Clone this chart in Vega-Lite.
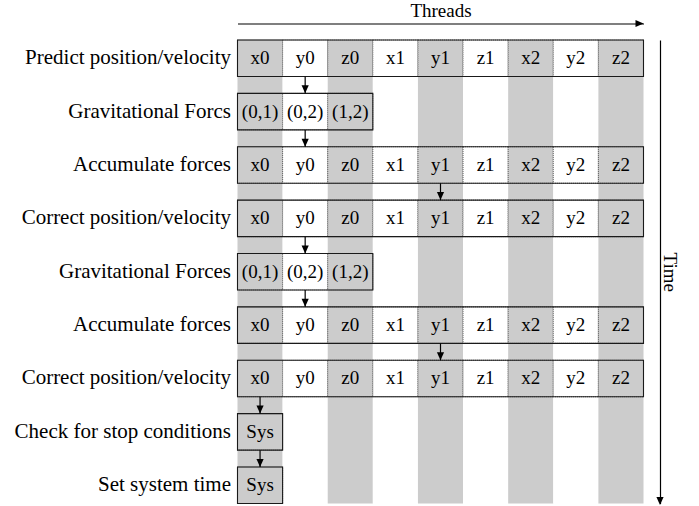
{
  "$schema": "https://vega.github.io/schema/vega-lite/v6.json",
  "width": 406,
  "height": 463.5,
  "autosize": {"type": "none"},
  "padding": {"left": 237.5, "top": 40, "right": 55.5, "bottom": 2.5},
  "background": "white",
  "config": {"view": {"stroke": null}, "font": "Liberation Serif"},
  "datasets": {
    "threads": [
      {"thread": "x0"}, {"thread": "y0"}, {"thread": "z0"},
      {"thread": "x1"}, {"thread": "y1"}, {"thread": "z1"},
      {"thread": "x2"}, {"thread": "y2"}, {"thread": "z2"}
    ],
    "cells": [
      {"step": "s1", "thread": "x0", "label": "x0"}, {"step": "s1", "thread": "y0", "label": "y0"}, {"step": "s1", "thread": "z0", "label": "z0"},
      {"step": "s1", "thread": "x1", "label": "x1"}, {"step": "s1", "thread": "y1", "label": "y1"}, {"step": "s1", "thread": "z1", "label": "z1"},
      {"step": "s1", "thread": "x2", "label": "x2"}, {"step": "s1", "thread": "y2", "label": "y2"}, {"step": "s1", "thread": "z2", "label": "z2"},
      {"step": "s2", "thread": "x0", "label": "(0,1)"}, {"step": "s2", "thread": "y0", "label": "(0,2)"}, {"step": "s2", "thread": "z0", "label": "(1,2)"},
      {"step": "s3", "thread": "x0", "label": "x0"}, {"step": "s3", "thread": "y0", "label": "y0"}, {"step": "s3", "thread": "z0", "label": "z0"},
      {"step": "s3", "thread": "x1", "label": "x1"}, {"step": "s3", "thread": "y1", "label": "y1"}, {"step": "s3", "thread": "z1", "label": "z1"},
      {"step": "s3", "thread": "x2", "label": "x2"}, {"step": "s3", "thread": "y2", "label": "y2"}, {"step": "s3", "thread": "z2", "label": "z2"},
      {"step": "s4", "thread": "x0", "label": "x0"}, {"step": "s4", "thread": "y0", "label": "y0"}, {"step": "s4", "thread": "z0", "label": "z0"},
      {"step": "s4", "thread": "x1", "label": "x1"}, {"step": "s4", "thread": "y1", "label": "y1"}, {"step": "s4", "thread": "z1", "label": "z1"},
      {"step": "s4", "thread": "x2", "label": "x2"}, {"step": "s4", "thread": "y2", "label": "y2"}, {"step": "s4", "thread": "z2", "label": "z2"},
      {"step": "s5", "thread": "x0", "label": "(0,1)"}, {"step": "s5", "thread": "y0", "label": "(0,2)"}, {"step": "s5", "thread": "z0", "label": "(1,2)"},
      {"step": "s6", "thread": "x0", "label": "x0"}, {"step": "s6", "thread": "y0", "label": "y0"}, {"step": "s6", "thread": "z0", "label": "z0"},
      {"step": "s6", "thread": "x1", "label": "x1"}, {"step": "s6", "thread": "y1", "label": "y1"}, {"step": "s6", "thread": "z1", "label": "z1"},
      {"step": "s6", "thread": "x2", "label": "x2"}, {"step": "s6", "thread": "y2", "label": "y2"}, {"step": "s6", "thread": "z2", "label": "z2"},
      {"step": "s7", "thread": "x0", "label": "x0"}, {"step": "s7", "thread": "y0", "label": "y0"}, {"step": "s7", "thread": "z0", "label": "z0"},
      {"step": "s7", "thread": "x1", "label": "x1"}, {"step": "s7", "thread": "y1", "label": "y1"}, {"step": "s7", "thread": "z1", "label": "z1"},
      {"step": "s7", "thread": "x2", "label": "x2"}, {"step": "s7", "thread": "y2", "label": "y2"}, {"step": "s7", "thread": "z2", "label": "z2"},
      {"step": "s8", "thread": "x0", "label": "Sys"},
      {"step": "s9", "thread": "x0", "label": "Sys"}
    ],
    "boxes": [
      {"step": "s1", "first": "x0", "last": "z2"},
      {"step": "s2", "first": "x0", "last": "z0"},
      {"step": "s3", "first": "x0", "last": "z2"},
      {"step": "s4", "first": "x0", "last": "z2"},
      {"step": "s5", "first": "x0", "last": "z0"},
      {"step": "s6", "first": "x0", "last": "z2"},
      {"step": "s7", "first": "x0", "last": "z2"},
      {"step": "s8", "first": "x0", "last": "x0"},
      {"step": "s9", "first": "x0", "last": "x0"}
    ],
    "arrows": [
      {"from": "s1", "to": "s2", "thread": "y0"},
      {"from": "s2", "to": "s3", "thread": "y0"},
      {"from": "s3", "to": "s4", "thread": "y1"},
      {"from": "s4", "to": "s5", "thread": "y0"},
      {"from": "s5", "to": "s6", "thread": "y0"},
      {"from": "s6", "to": "s7", "thread": "y1"},
      {"from": "s7", "to": "s8", "thread": "x0"},
      {"from": "s8", "to": "s9", "thread": "x0"}
    ]
  },
  "layer": [
    {
      "data": {"name": "threads"},
      "mark": {"type": "rect"},
      "encoding": {
        "x": {
          "field": "thread", "type": "nominal",
          "scale": {"type": "band", "domain": ["x0", "y0", "z0", "x1", "y1", "z1", "x2", "y2", "z2"], "paddingInner": 0, "paddingOuter": 0},
          "axis": {"orient": "top", "offset": 16.5, "domain": true, "domainColor": "black", "domainWidth": 1.2, "ticks": false, "labels": false, "grid": false,
                   "title": "Threads", "titleFont": "Liberation Serif", "titleFontSize": 19, "titleFontWeight": "normal", "titleColor": "black", "titlePadding": 3}
        },
        "color": {
          "field": "thread", "type": "nominal",
          "scale": {"domain": ["x0", "y0", "z0", "x1", "y1", "z1", "x2", "y2", "z2"],
                    "range": ["#cccccc", "#ffffff", "#cccccc", "#ffffff", "#cccccc", "#ffffff", "#cccccc", "#ffffff", "#cccccc"]},
          "legend": null
        }
      }
    },
    {
      "data": {"name": "cells"},
      "mark": {"type": "rect", "stroke": "#555555", "strokeWidth": 0.9, "strokeDash": [1, 1], "fillOpacity": 1},
      "encoding": {
        "x": {"field": "thread", "type": "nominal"},
        "y": {
          "field": "step", "type": "nominal",
          "scale": {"type": "band", "domain": ["s1", "s2", "s3", "s4", "s5", "s6", "s7", "s8", "s9"], "paddingInner": 0.316, "paddingOuter": 0},
          "axis": {
            "orient": "left", "domain": false, "ticks": false, "grid": false, "title": null,
            "labelFont": "Liberation Serif", "labelFontSize": 21, "labelColor": "black", "labelPadding": 7, "labelLimit": 400,
            "labelExpr": "['Predict position/velocity', 'Gravitational Forcs', 'Accumulate forces', 'Correct position/velocity', 'Gravitational Forces', 'Accumulate forces', 'Correct position/velocity', 'Check for stop conditions', 'Set system time'][indexof(['s1','s2','s3','s4','s5','s6','s7','s8','s9'], datum.value)]"
          }
        },
        "color": {"field": "thread", "type": "nominal", "legend": null}
      }
    },
    {
      "data": {"name": "cells"},
      "mark": {"type": "text", "font": "Liberation Serif", "fontSize": 19, "color": "black", "baseline": "middle", "align": "center"},
      "encoding": {
        "x": {"field": "thread", "type": "nominal", "bandPosition": 0.5},
        "y": {"field": "step", "type": "nominal", "bandPosition": 0.5, "axis": null},
        "text": {"field": "label"}
      }
    },
    {
      "data": {"name": "boxes"},
      "mark": {"type": "rect", "fill": null, "fillOpacity": 0, "stroke": "#1a1a1a", "strokeWidth": 1.1},
      "encoding": {
        "x": {"field": "first", "type": "nominal", "bandPosition": 0},
        "x2": {"field": "last", "bandPosition": 1},
        "y": {"field": "step", "type": "nominal", "axis": null}
      }
    },
    {
      "data": {"name": "arrows"},
      "mark": {"type": "rule", "color": "black", "strokeWidth": 1.2},
      "encoding": {
        "x": {"field": "thread", "type": "nominal", "bandPosition": 0.5},
        "y": {"field": "from", "type": "nominal", "bandPosition": 1, "axis": null},
        "y2": {"field": "to", "bandPosition": 0}
      }
    },
    {
      "data": {"name": "arrows"},
      "mark": {"type": "point", "shape": "M-0.45,-1L0.45,-1L0,0Z", "size": 256, "filled": true, "fill": "black", "stroke": null, "opacity": 1},
      "encoding": {
        "x": {"field": "thread", "type": "nominal", "bandPosition": 0.5},
        "y": {"field": "to", "type": "nominal", "bandPosition": 0, "axis": null}
      }
    },
    {
      "data": {"values": [{"thread": "z2", "step": "s1"}]},
      "mark": {"type": "point", "shape": "M-1,-0.45L-1,0.45L0,0Z", "size": 256, "filled": true, "fill": "black", "stroke": null, "opacity": 1, "yOffset": -16.5},
      "encoding": {
        "x": {"field": "thread", "type": "nominal", "bandPosition": 1},
        "y": {"field": "step", "type": "nominal", "bandPosition": 0, "axis": null}
      }
    },
    {
      "data": {"values": [{"thread": "z2", "step": "s9"}]},
      "mark": {"type": "point", "shape": "M-0.45,-1L0.45,-1L0,0Z", "size": 256, "filled": true, "fill": "black", "stroke": null, "opacity": 1, "xOffset": 16.5, "yOffset": 1.5},
      "encoding": {
        "x": {"field": "thread", "type": "nominal", "bandPosition": 1},
        "y": {
          "field": "step", "type": "nominal", "bandPosition": 1,
          "axis": {"orient": "right", "offset": 16.5, "domain": true, "domainColor": "black", "domainWidth": 1.2, "ticks": false, "labels": false, "grid": false,
                   "title": "Time", "titleAngle": 90, "titleBaseline": "alphabetic", "titleFont": "Liberation Serif", "titleFontSize": 19, "titleFontWeight": "normal", "titleColor": "black", "titlePadding": 3}
        }
      }
    }
  ],
  "resolve": {"axis": {"y": "independent"}}
}
